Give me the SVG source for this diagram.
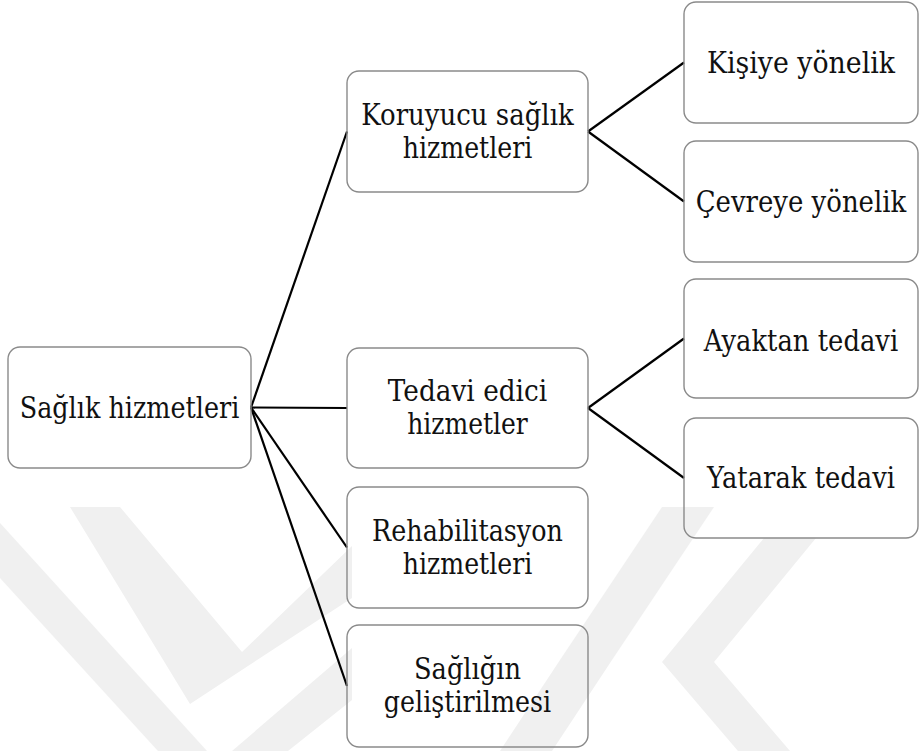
<svg xmlns="http://www.w3.org/2000/svg" width="919" height="751" viewBox="0 0 919 751">
  <style>
    .box { fill: none; stroke: #8a8a8a; stroke-width: 1.4; }
    .lbl { font-family: "DejaVu Serif", serif; font-size: 29px; fill: #111; text-anchor: middle; }
    .edge { stroke: #000; stroke-width: 2.2; fill: none; }
    .wm { fill: #f0f0f0; }
  </style>
  <rect width="919" height="751" fill="#fff"/>

  <!-- faint background mark -->
  <g id="backdrop">
    <polygon class="wm" points="0,523 207,751 158,751 0,578"/>
    <polygon class="wm" points="70,507 120,507 242,652 352,546 352,598 190,704"/>
    <polygon class="wm" points="232,751 288,751 352,700 352,648"/>
    <polygon class="wm" points="662,507 714,507 612,660 560,660"/>
    <polygon class="wm" points="764,538 816,538 714,662 662,662"/>
    <polygon class="wm" points="662,662 714,662 790,751 738,751"/>
    <polygon class="wm" points="560,660 612,660 552,751 500,751"/>
  </g>

  <g id="connectors">
    <line class="edge" x1="251" y1="407.5" x2="347" y2="131.5"/>
    <line class="edge" x1="251" y1="407.5" x2="347" y2="408"/>
    <line class="edge" x1="251" y1="407.5" x2="347" y2="547.5"/>
    <line class="edge" x1="251" y1="407.5" x2="347" y2="686"/>
    <line class="edge" x1="588" y1="131.5" x2="684" y2="62.5"/>
    <line class="edge" x1="588" y1="131.5" x2="684" y2="201.5"/>
    <line class="edge" x1="588" y1="408" x2="684" y2="338.5"/>
    <line class="edge" x1="588" y1="408" x2="684" y2="478"/>
  </g>

  <!-- labels are set in a serif face narrowed to 90% width -->
  <g id="saglik-hizmetleri">
    <rect class="box" x="8" y="347" width="243" height="121" rx="12"/>
    <text class="lbl" transform="translate(129.5,418) scale(0.9,1)" textLength="244" lengthAdjust="spacingAndGlyphs">Sağlık hizmetleri</text>
  </g>

  <g id="koruyucu">
    <rect class="box" x="347" y="71" width="241" height="121" rx="12"/>
    <text class="lbl" transform="translate(467.5,125) scale(0.9,1)" textLength="236" lengthAdjust="spacingAndGlyphs">Koruyucu sağlık</text>
    <text class="lbl" transform="translate(467.5,158) scale(0.9,1)" textLength="144" lengthAdjust="spacingAndGlyphs">hizmetleri</text>
  </g>

  <g id="tedavi-edici">
    <rect class="box" x="347" y="348" width="241" height="120" rx="12"/>
    <text class="lbl" transform="translate(467.5,401) scale(0.9,1)" textLength="177" lengthAdjust="spacingAndGlyphs">Tedavi edici</text>
    <text class="lbl" transform="translate(467.5,434) scale(0.9,1)" textLength="134" lengthAdjust="spacingAndGlyphs">hizmetler</text>
  </g>

  <g id="rehabilitasyon">
    <rect class="box" x="347" y="487" width="241" height="121" rx="12"/>
    <text class="lbl" transform="translate(467.5,541) scale(0.9,1)" textLength="212" lengthAdjust="spacingAndGlyphs">Rehabilitasyon</text>
    <text class="lbl" transform="translate(467.5,574) scale(0.9,1)" textLength="144" lengthAdjust="spacingAndGlyphs">hizmetleri</text>
  </g>

  <g id="sagligin-gelistirilmesi">
    <rect class="box" x="347" y="625" width="241" height="122" rx="12"/>
    <text class="lbl" transform="translate(467.5,679) scale(0.9,1)" textLength="119" lengthAdjust="spacingAndGlyphs">Sağlığın</text>
    <text class="lbl" transform="translate(467.5,712) scale(0.9,1)" textLength="186" lengthAdjust="spacingAndGlyphs">geliştirilmesi</text>
  </g>

  <g id="kisiye-yonelik">
    <rect class="box" x="684" y="2" width="234" height="121" rx="12"/>
    <text class="lbl" transform="translate(801,73) scale(0.9,1)" textLength="209" lengthAdjust="spacingAndGlyphs">Kişiye yönelik</text>
  </g>

  <g id="cevreye-yonelik">
    <rect class="box" x="684" y="141" width="234" height="121" rx="12"/>
    <text class="lbl" transform="translate(801,212) scale(0.9,1)" textLength="234" lengthAdjust="spacingAndGlyphs">Çevreye yönelik</text>
  </g>

  <g id="ayaktan-tedavi">
    <rect class="box" x="684" y="279" width="234" height="119" rx="12"/>
    <text class="lbl" transform="translate(801,351) scale(0.9,1)" textLength="216" lengthAdjust="spacingAndGlyphs">Ayaktan tedavi</text>
  </g>

  <g id="yatarak-tedavi">
    <rect class="box" x="684" y="418" width="234" height="120" rx="12"/>
    <text class="lbl" transform="translate(801,488) scale(0.9,1)" textLength="209" lengthAdjust="spacingAndGlyphs">Yatarak tedavi</text>
  </g>
</svg>
